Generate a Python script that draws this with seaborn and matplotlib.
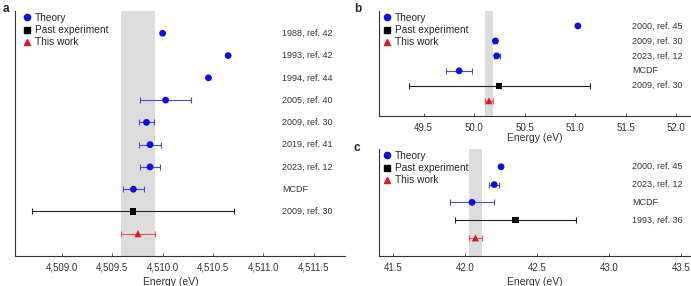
import numpy as np
import pandas as pd
import seaborn as sns
import matplotlib.pyplot as plt
import matplotlib.transforms as mtransforms
from matplotlib.lines import Line2D

sns.set_style("ticks")
plt.rcParams['font.family'] = ['Liberation Sans', 'DejaVu Sans']

# Panel a data (K-shell energy)
labels_a = ["1988, ref. 42", "1993, ref. 42", "1994, ref. 44", "2005, ref. 40", "2009, ref. 30",
            "2019, ref. 41", "2023, ref. 12", "MCDF", "2009, ref. 30", ""]
kinds_a = ["Theory"] * 8 + ["Past experiment", "This work"]
energy_a = [4510.00, 4510.65, 4510.455, 4510.03, 4509.84, 4509.875, 4509.875, 4509.71, 4509.706, 4509.755]
err_a = [0, 0, 0, 0.25, 0.075, 0.11, 0.10, 0.105, 1.0, 0.165]
ticks_a = [4509.0, 4509.5, 4510.0, 4510.5, 4511.0, 4511.5]

# Panel b data
labels_b = ["2000, ref. 45", "2009, ref. 30", "2023, ref. 12", "MCDF", "2009, ref. 30", ""]
kinds_b = ["Theory"] * 4 + ["Past experiment", "This work"]
energy_b = [51.026, 50.211, 50.224, 49.852, 50.25, 50.148]
err_b = [0, 0.02, 0.03, 0.132, 0.894, 0.043]
ticks_b = [49.5, 50.0, 50.5, 51.0, 51.5, 52.0]

# Panel c data
labels_c = ["2000, ref. 45", "2023, ref. 12", "MCDF", "1993, ref. 36", ""]
kinds_c = ["Theory"] * 3 + ["Past experiment", "This work"]
energy_c = [42.248, 42.20, 42.046, 42.348, 42.07]
err_c = [0, 0.035, 0.155, 0.42, 0.046]
ticks_c = [41.5, 42.0, 42.5, 43.0, 43.5]

palette = {"Theory": "#0d0de0", "Past experiment": "#000000", "This work": "#e3151f"}
bar_colors = {"Theory": "#4a4ad0", "Past experiment": "#222222", "This work": "#e2575c"}
markers = {"Theory": "o", "Past experiment": "s", "This work": "^"}
sizes = {"Theory": 24, "Past experiment": 20, "This work": 26}


def draw_panel(ax, labels, kinds, energy, err, ticks, xlim, fmt, label_x, leg_x,
               xlabel_x=0.5, labelpad=3):
    df = pd.DataFrame({"label": labels, "kind": kinds, "energy": energy, "err": err})
    df["row"] = np.arange(len(df))

    # grey band: this work +/- uncertainty
    tw = df[df["kind"] == "This work"].iloc[0]
    ax.axvspan(tw["energy"] - tw["err"], tw["energy"] + tw["err"], color="#dcdcdc", lw=0, zorder=0)

    for k in palette:
        sub = df[(df["kind"] == k) & (df["err"] > 0)]
        if len(sub):
            ax.errorbar(sub["energy"], sub["row"], xerr=sub["err"], fmt="none",
                        ecolor=bar_colors[k], elinewidth=0.8, capsize=2.3, capthick=0.8, zorder=2)
        sub = df[df["kind"] == k]
        sns.scatterplot(data=sub, x="energy", y="row", color=palette[k], marker=markers[k],
                        s=sizes[k], edgecolor="none", legend=False, ax=ax, zorder=3)

    trans = mtransforms.blended_transform_factory(ax.transAxes, ax.transData)
    for _, r in df.iterrows():
        ax.text(label_x, r["row"], r["label"], transform=trans, ha="left", va="center",
                fontsize=6.5, color="#333333")

    ax.set_ylim(len(df), -1)
    ax.set_yticks([])
    ax.set_ylabel("")
    ax.set_xlim(*xlim)
    ax.set_xticks(ticks)
    ax.set_xticklabels([fmt(t) for t in ticks])
    ax.tick_params(axis="x", direction="in", length=2.5, width=0.6, labelsize=7,
                   colors="#333333", pad=5)
    ax.set_xlabel("Energy (eV)", fontsize=7.5, color="#333333", labelpad=labelpad)
    ax.xaxis.label.set_x(xlabel_x)
    sns.despine(ax=ax)
    for s in ["left", "bottom"]:
        ax.spines[s].set_linewidth(0.8)
        ax.spines[s].set_color("#333333")

    handles = [Line2D([], [], ls="none", marker=markers[k], color=palette[k],
                      markersize=4.5 if k != "Past experiment" else 4) for k in palette]
    ax.legend(handles, list(palette), loc="upper left", bbox_to_anchor=(leg_x, 1.0),
              frameon=False, fontsize=7.3, handletextpad=0.2, handlelength=1.2,
              labelspacing=0.2, borderaxespad=0.0, borderpad=0.2)


fig = plt.figure(figsize=(6.91, 2.86), dpi=100)
ax_a = fig.add_axes([0.0217, 0.1049, 0.4776, 0.8566])
ax_b = fig.add_axes([0.5485, 0.5955, 0.450, 0.366])
ax_c = fig.add_axes([0.5485, 0.106, 0.450, 0.373])

draw_panel(ax_a, labels_a, kinds_a, energy_a, err_a, ticks_a, (4508.535, 4511.81),
           lambda t: f"{t:,.1f}", 0.809, 0.012, xlabel_x=0.473)
draw_panel(ax_b, labels_b, kinds_b, energy_b, err_b, ticks_b, (49.06, 52.134),
           lambda t: f"{t:.1f}", 0.813, 0.0, labelpad=0.5)
draw_panel(ax_c, labels_c, kinds_c, energy_c, err_c, ticks_c, (41.40, 43.56),
           lambda t: f"{t:.1f}", 0.813, 0.0)

fig.text(0.004, 0.99, "a", fontsize=8.5, weight="bold", va="top")
fig.text(0.512, 0.99, "b", fontsize=8.5, weight="bold", va="top")
fig.text(0.512, 0.505, "c", fontsize=8.5, weight="bold", va="top")

fig.savefig("out.png", dpi=100)
